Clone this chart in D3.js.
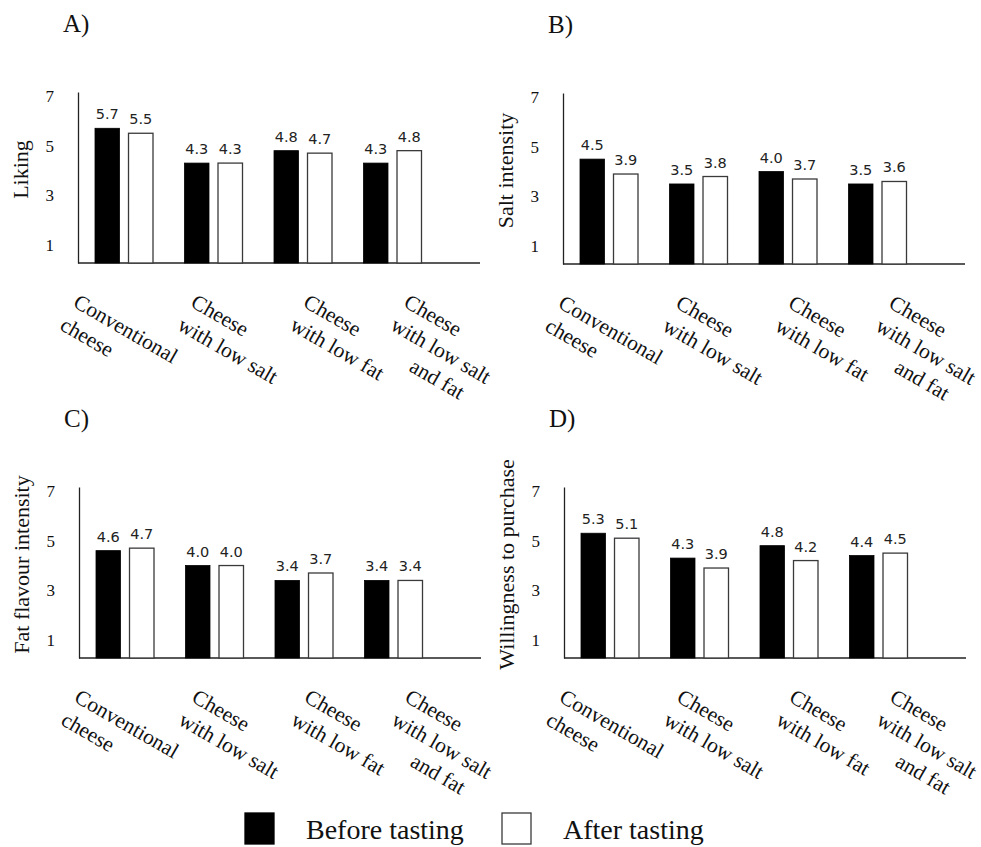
<!DOCTYPE html>
<html>
<head>
<meta charset="utf-8">
<script src="https://cdn.jsdelivr.net/npm/d3@7/dist/d3.min.js"></script>
<style>
  html, body { margin: 0; padding: 0; background: #fff; }
  svg { display: block; }
</style>
</head>
<body>
<svg id="chart" width="981" height="847"></svg>
<script>
// ---- data ----
const categories = ["Conventional cheese", "Cheese with low salt", "Cheese with low fat", "Cheese with low salt and fat"];
const categoryLines = [["Conventional", "cheese"], ["Cheese", "with low salt"], ["Cheese", "with low fat"], ["Cheese", "with low salt", "and fat"]];
const series = ["Before tasting", "After tasting"];
const yTicks = [1, 3, 5, 7];

const panelLetters = ["A)", "B)", "C)", "D)"];
const panelTitles = ["Liking", "Salt intensity", "Fat flavour intensity", "Willingness to purchase"];

const likingBefore = [5.7, 4.3, 4.8, 4.3];
const likingAfter = [5.5, 4.3, 4.7, 4.8];
const saltBefore = [4.5, 3.5, 4.0, 3.5];
const saltAfter = [3.9, 3.8, 3.7, 3.6];
const fatBefore = [4.6, 4.0, 3.4, 3.4];
const fatAfter = [4.7, 4.0, 3.7, 3.4];
const purchaseBefore = [5.3, 4.3, 4.8, 4.4];
const purchaseAfter = [5.1, 3.9, 4.2, 4.5];

const panelValues = [
  [likingBefore, likingAfter],
  [saltBefore, saltAfter],
  [fatBefore, fatAfter],
  [purchaseBefore, purchaseAfter]
];

// ---- layout ----
const SERIF = "'Liberation Serif', 'Times New Roman', serif";
const SANS = "'DejaVu Sans', Verdana, sans-serif";
const panelOrigins = [[78, 263], [563, 264], [79, 658], [564, 658]]; // axis corner
const axisLen = 402;
const axisHeight = 171;
const labelNudge = [-52, -24, -1, 10];
const fills = ["#000", "#fff"];

const svg = d3.select("#chart");

panelValues.forEach((vals, p) => {
  const [ax, ay] = panelOrigins[p];
  const g = svg.append("g");

  const y = d3.scaleLinear().domain([0.28, 7.16]).range([ay, ay - axisHeight]);
  const x = d3.scaleBand().domain(categories).range([ax + 1.25, ax + 1.25 + 358]).padding(0);
  const xs = d3.scaleBand().domain(series).range([-29, 29]).paddingInner(0.269).paddingOuter(0);

  // y axis
  const yAxis = d3.axisLeft(y).tickValues(yTicks).tickSize(0).tickSizeOuter(0).tickPadding(24).tickFormat(d3.format("d"));
  const ya = g.append("g").attr("transform", `translate(${ax},0)`).call(yAxis);
  ya.select(".domain").attr("stroke", "#222").attr("stroke-width", 1.3);
  ya.selectAll("text").attr("font-family", SERIF).attr("font-size", 17).attr("fill", "#111");

  // x axis line
  g.append("line")
    .attr("x1", ax).attr("x2", ax + axisLen)
    .attr("y1", ay).attr("y2", ay)
    .attr("stroke", "#222").attr("stroke-width", 1.3);

  // bars
  series.forEach((s, si) => {
    const data = vals[si];
    const bars = g.append("g");
    bars.selectAll("rect").data(data).join("rect")
      .attr("x", (d, i) => x(categories[i]) + x.bandwidth() / 2 + xs(s))
      .attr("y", d => y(d))
      .attr("width", xs.bandwidth())
      .attr("height", d => y(0.28) - y(d))
      .attr("fill", fills[si])
      .attr("stroke", si === 0 ? "#000" : "#3a3a3a")
      .attr("stroke-width", si === 0 ? 0.8 : 1.3);
    bars.selectAll("text").data(data).join("text")
      .attr("x", (d, i) => x(categories[i]) + x.bandwidth() / 2 + xs(s) + xs.bandwidth() / 2)
      .attr("y", d => y(d) - 9)
      .attr("text-anchor", "middle")
      .attr("font-family", SANS)
      .attr("font-size", 14.5)
      .attr("fill", "#222")
      .text(d => d.toFixed(1));
  });

  // category labels
  categories.forEach((c, i) => {
    const cx = x(c) + x.bandwidth() / 2 + labelNudge[i];
    const t = g.append("text")
      .attr("transform", `translate(${cx},${ay + 43}) rotate(30)`)
      .attr("font-family", SERIF)
      .attr("font-size", 21.5)
      .attr("fill", "#111");
    categoryLines[i].forEach((line, li) => {
      t.append("tspan")
        .attr("x", li >= 2 ? 37 : 0)
        .attr("y", li * 26.5)
        .text(line);
    });
  });

  // y title
  g.append("text")
    .attr("transform", `translate(${ax - 50},${ay - axisHeight / 2 - 8}) rotate(-90)`)
    .attr("text-anchor", "middle")
    .attr("font-family", SERIF)
    .attr("font-size", 22)
    .attr("fill", "#111")
    .text(panelTitles[p]);

  // panel letter
  g.append("text")
    .attr("x", ax - 15)
    .attr("y", ay - 231)
    .attr("font-family", SERIF)
    .attr("font-size", 25)
    .attr("fill", "#111")
    .text(panelLetters[p]);
});

// ---- legend ----
const legendX = [245, 502];
const legend = svg.append("g");
series.forEach((s, i) => {
  legend.append("rect")
    .attr("x", legendX[i]).attr("y", 813)
    .attr("width", 29).attr("height", 31)
    .attr("fill", fills[i])
    .attr("stroke", i === 0 ? "#000" : "#3a3a3a")
    .attr("stroke-width", 1.3);
  legend.append("text")
    .attr("x", legendX[i] + 61).attr("y", 839)
    .attr("font-family", SERIF)
    .attr("font-size", 28)
    .attr("fill", "#111")
    .text(s);
});
</script>
</body>
</html>
